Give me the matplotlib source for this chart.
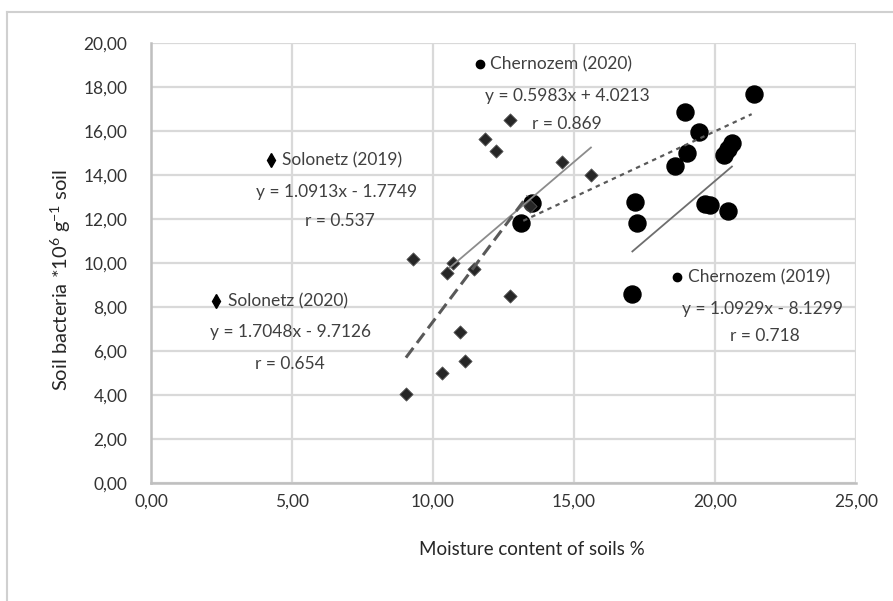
import matplotlib
matplotlib.use("Agg")
import matplotlib.pyplot as plt
import matplotlib.ticker as ticker
from matplotlib import font_manager
from matplotlib.lines import Line2D
import numpy as np

# pick a font that is installed
names = set(f.name for f in font_manager.fontManager.ttflist)
for fam in ["Liberation Sans Narrow", "Lato", "Open Sans", "DejaVu Sans"]:
    if fam in names:
        plt.rcParams['font.family'] = fam
        plt.rcParams['mathtext.fontset'] = 'custom'
        plt.rcParams['mathtext.rm'] = fam
        break

# data
solo19_x = [10.50, 10.70, 11.83, 12.24, 12.72, 14.59, 15.60]
solo19_y = [9.53, 9.99, 15.62, 15.10, 16.50, 14.60, 14.00]
solo20_x = [9.04, 9.28, 10.32, 10.94, 11.12, 11.45, 12.72, 13.45]
solo20_y = [4.05, 10.18, 5.01, 6.88, 5.56, 9.71, 8.50, 12.60]
cher19_x = [17.07, 17.16, 17.22, 19.66, 19.83, 20.46, 20.31, 20.60]
cher19_y = [8.59, 12.76, 11.80, 12.68, 12.64, 12.38, 14.90, 15.44]
cher20_x = [13.13, 13.51, 18.57, 18.94, 19.00, 19.42, 20.46, 21.40]
cher20_y = [11.80, 12.74, 14.40, 16.88, 15.00, 15.97, 15.20, 17.67]

# trend lines (slope, intercept, x range)
fit_solo19 = (1.0913, -1.7749, 10.6, 15.6)
fit_solo20 = (1.7048, -9.7126, 9.04, 13.35)
fit_cher19 = (1.0929, -8.1299, 17.07, 20.6)
fit_cher20 = (0.5983, 4.0213, 13.2, 21.3)

fig = plt.figure(figsize=(8.93, 6.01), dpi=100)
ax = fig.add_axes([151/893, 1-483/601, 705/893, 440/601])

grid_c = '#d9d9d9'
ax.set_xlim(0, 25)
ax.set_ylim(0, 20)
ax.xaxis.set_major_locator(ticker.MultipleLocator(5))
ax.yaxis.set_major_locator(ticker.MultipleLocator(2))
fmt = ticker.FuncFormatter(lambda v, p: ("%.2f" % v).replace('.', ','))
ax.xaxis.set_major_formatter(fmt)
ax.yaxis.set_major_formatter(fmt)
ax.grid(True, color=grid_c, lw=1.6)
ax.set_axisbelow(True)
for s in ['top', 'right']:
    ax.spines[s].set_visible(False)
for s in ['left', 'bottom']:
    ax.spines[s].set_color('#bfbfbf')
    ax.spines[s].set_linewidth(1.8)
ax.tick_params(length=0, labelsize=12.5, colors='#333333')
ax.tick_params(axis='x', pad=8)
ax.tick_params(axis='y', pad=17)

def fit_line(f, **kw):
    a, b, x0, x1 = f
    xs = np.array([x0, x1])
    ax.plot(xs, a*xs + b, **kw)

# markers
ax.scatter(cher19_x, cher19_y, s=150, c='black', marker='o', zorder=3)
ax.scatter(cher20_x, cher20_y, s=150, c='black', marker='o', zorder=3)
ax.scatter(solo19_x, solo19_y, s=45, c='#262626', marker='D', edgecolors='#555555', linewidths=0.6, zorder=4)
ax.scatter(solo20_x, solo20_y, s=45, c='#262626', marker='D', edgecolors='#555555', linewidths=0.6, zorder=4)

fit_line(fit_solo19, color='#8c8c8c', lw=1.3, zorder=5)
fit_line(fit_solo20, color='#595959', lw=2.2, ls=(0, (4, 2)), zorder=5)
fit_line(fit_cher19, color='#6e6e6e', lw=1.3, zorder=5)
fit_line(fit_cher20, color='#595959', lw=1.6, ls=(0, (2, 2)), zorder=5)

ax.set_xlabel('Moisture content of soils %', fontsize=13.5, color='#262626')
ax.xaxis.set_label_coords((532-151)/705, -(541-483)/440)
ax.set_ylabel('Soil bacteria *10$^{6}$ g$^{-1}$ soil', fontsize=14.5, color='#262626')
ax.yaxis.set_label_coords(-(151-73)/705, (483-280)/440)

# annotation blocks
tc = '#404040'
fs = 12.5
fig.text(490/893, 1-64/601, 'Chernozem (2020)', fontsize=fs, color=tc, va='center')
fig.text(567/893, 1-96/601, 'y = 0.5983x + 4.0213', fontsize=fs, color=tc, va='center', ha='center')
fig.text(567/893, 1-124/601, 'r = 0.869', fontsize=fs, color=tc, va='center', ha='center')
fig.text(282/893, 1-160/601, 'Solonetz (2019)', fontsize=fs, color=tc, va='center')
fig.text(337/893, 1-192/601, 'y = 1.0913x - 1.7749', fontsize=fs, color=tc, va='center', ha='center')
fig.text(340/893, 1-221/601, 'r = 0.537', fontsize=fs, color=tc, va='center', ha='center')
fig.text(228/893, 1-301/601, 'Solonetz (2020)', fontsize=fs, color=tc, va='center')
fig.text(290/893, 1-332/601, 'y = 1.7048x - 9.7126', fontsize=fs, color=tc, va='center', ha='center')
fig.text(290/893, 1-364/601, 'r = 0.654', fontsize=fs, color=tc, va='center', ha='center')
fig.text(688/893, 1-277/601, 'Chernozem (2019)', fontsize=fs, color=tc, va='center')
fig.text(763/893, 1-309/601, 'y = 1.0929x - 8.1299', fontsize=fs, color=tc, va='center', ha='center')
fig.text(765/893, 1-336/601, 'r = 0.718', fontsize=fs, color=tc, va='center', ha='center')

legend_marks = [(480, 64, 'o', 6), (271, 160, 'd', 7), (216, 301, 'd', 7), (677, 277, 'o', 6)]
for mx, my, mk, ms in legend_marks:
    fig.lines.append(Line2D([mx/893], [1-my/601], marker=mk, color='black', ms=ms,
                            transform=fig.transFigure))

# chart frame
fig.lines.append(Line2D([7/893, 1], [1-12/601, 1-12/601], color='#d0d0d0', lw=1.5, transform=fig.transFigure))
fig.lines.append(Line2D([7/893, 7/893], [0, 1-12/601], color='#d0d0d0', lw=1.5, transform=fig.transFigure))

fig.savefig('out.png', dpi=100)
